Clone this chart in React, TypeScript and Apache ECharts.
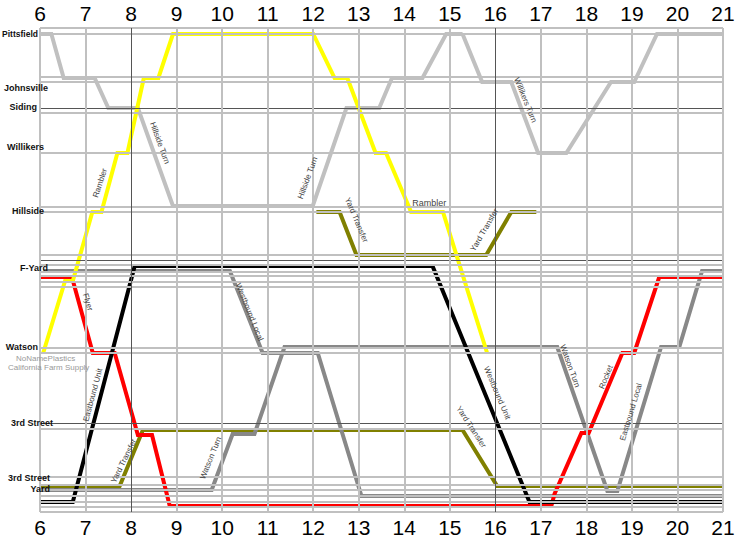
import React, { useEffect, useRef } from "react";
import * as echarts from "echarts";

// Time axis (hours of day)
const hourTicks = [6, 7, 8, 9, 10, 11, 12, 13, 14, 15, 16, 17, 18, 19, 20, 21];
const darkHours = [8, 16];

// Station names and their track positions (distance units from top)
const stationNames = ["Pittsfield", "Johnsville", "Siding", "Willikers", "Hillside", "F-Yard", "Watson", "3rd Street", "3rd Street", "Yard"];
const stationPos = [6, 60, 79, 119, 183, 240, 319, 395, 450, 461];
const industryNames = ["NoNamePlastics", "California Farm Supply"];

// Track lines (horizontal reference lines)
const trackLines = [0, 6, 49, 54, 85, 125, 179, 184, 227, 237, 244, 248, 254, 259, 320, 325, 401, 449, 457, 462, 468, 474, 479, 484];
const mainLines = [80, 232, 395];

// Trains: [hour, position]
const rambler: number[][] = [
  [6.07, 325], [6.55, 253], [6.72, 253], [7.15, 184], [7.35, 184], [7.7, 125], [7.92, 125],
  [8.28, 50], [8.6, 50], [8.92, 6], [12.0, 6], [12.47, 50], [12.75, 50], [13.37, 125],
  [13.6, 125], [14.15, 184], [14.85, 184], [15.82, 325],
];
const hillsideTurn: number[][] = [
  [6, 6], [6.25, 6], [6.52, 50], [7.2, 50], [7.5, 80], [8.15, 80], [8.92, 178], [11.99, 178],
  [12.73, 80], [13.45, 80], [13.73, 50], [14.4, 50], [14.92, 6], [15.28, 6],
];
const willikersTurn: number[][] = [
  [15.28, 6], [15.71, 54], [16.35, 54], [16.94, 125], [17.56, 125], [18.54, 54], [19.05, 54], [19.55, 6], [21, 6],
];
const yardTransferUpper: number[][] = [
  [12.07, 184], [12.58, 184], [12.95, 227], [15.8, 227], [16.35, 184], [16.9, 184],
];
const yardTransferLower: number[][] = [
  [6, 458], [7.75, 458], [8.26, 402], [15.28, 402], [16.04, 458], [21, 458],
];
const unitTrain: number[][] = [
  [6, 474], [6.72, 474], [8.08, 238], [14.62, 238], [16.75, 474], [21, 474],
];
const flyerRocket: number[][] = [
  [6, 249], [6.7, 249], [7.16, 325], [7.64, 325], [8.15, 407], [8.46, 407], [8.85, 478],
  [17.23, 478], [17.3, 466], [17.89, 405], [18.05, 405], [18.79, 325], [19.05, 325], [19.6, 249], [21, 249],
];
const westboundLocal: number[][] = [
  [6.07, 243], [10.17, 243], [10.89, 325], [12.1, 325], [13.06, 468], [21, 468],
];
const watsonTurnLocal: number[][] = [
  [6, 462], [9.77, 462], [10.23, 406], [10.71, 406], [11.37, 319], [17.36, 319], [18.46, 463],
  [18.68, 463], [19.64, 319], [20.04, 319], [20.54, 243], [21, 243],
];

// Train annotations
const trainLabelText = [
  "Rambler", "Hillside Turn", "Hillside Turn", "Yard Transfer", "Rambler", "Yard Transfer",
  "Willikers Turn", "Flyer", "Westbound Local", "Eastbound Unit", "Yard Transfer", "Watson Turn",
  "Yard Transfer", "Westbound Unit", "Watson Turn", "Rocket", "Eastbound Local",
];

// layout (not data): anchor [hour, position], angle in degrees
const trainLabelLayout = [
  { at: [7.32, 155], angle: 72 },
  { at: [8.63, 115], angle: -70 },
  { at: [11.88, 150], angle: 70 },
  { at: [12.95, 192], angle: -67 },
  { at: [14.55, 175], angle: 0 },
  { at: [15.76, 202], angle: 60 },
  { at: [16.66, 72], angle: -68 },
  { at: [7.05, 274], angle: -73 },
  { at: [10.6, 284], angle: -68 },
  { at: [7.16, 367], angle: 75 },
  { at: [7.84, 433], angle: 64 },
  { at: [9.75, 430], angle: 68 },
  { at: [15.47, 399], angle: -57 },
  { at: [16.04, 365], angle: -67 },
  { at: [17.64, 338], angle: -70 },
  { at: [18.43, 349], angle: 68 },
  { at: [18.98, 384], angle: 73 },
];
const stationLabelRight = [38, 48, 37, 44, 44, 48, 38, 53, 50, 50];

const LIGHT = "#c0c0c0";
const DARK = "#555555";
const FONT = "Arial, 'Liberation Sans', sans-serif";

export default function App() {
  const ref = useRef<HTMLDivElement>(null);
  useEffect(() => {
    if (!ref.current) return;
    const chart = echarts.init(ref.current, undefined, { renderer: "svg" });

    const gridMarks: any[] = [];
    trackLines.forEach((v) => gridMarks.push({ yAxis: v, lineStyle: { color: LIGHT, width: 2, type: "solid" } }));
    mainLines.forEach((v) => gridMarks.push({ yAxis: v, lineStyle: { color: DARK, width: 1, type: "solid" } }));
    hourTicks.forEach((h) =>
      gridMarks.push({
        xAxis: h,
        lineStyle: darkHours.includes(h) ? { color: DARK, width: 1, type: "solid" } : { color: LIGHT, width: 2, type: "solid" },
      })
    );

    const train = (name: string, data: number[][], color: string, width = 4, z = 3) => ({
      name,
      type: "line",
      data,
      symbol: "none",
      silent: true,
      z,
      lineStyle: { color, width, cap: "butt", join: "miter" },
    });

    const axisBase = {
      type: "value",
      min: 6,
      max: 21,
      interval: 1,
      axisLine: { show: false },
      axisTick: { show: false },
      splitLine: { show: false },
    };

    chart.setOption({
      animation: false,
      backgroundColor: "#ffffff",
      grid: { left: 40, right: 17, top: 28, bottom: 29, containLabel: false },
      xAxis: [
        { ...axisBase, position: "bottom", axisLabel: { fontSize: 21, color: "#000", fontFamily: FONT, margin: 5 } },
        { ...axisBase, position: "top", axisLabel: { fontSize: 21, color: "#000", fontFamily: FONT, margin: 4 } },
      ],
      yAxis: { type: "value", min: 0, max: 484, inverse: true, show: false },
      series: [
        {
          type: "line",
          data: [],
          z: 1,
          markLine: { silent: true, symbol: "none", label: { show: false }, animation: false, data: gridMarks },
        },
        train("Hillside Turn", hillsideTurn, LIGHT),
        train("Willikers Turn", willikersTurn, LIGHT),
        train("Yard Transfer", yardTransferUpper, "#808000"),
        train("Yard Transfer 2", yardTransferLower, "#808000"),
        train("Westbound Local", westboundLocal, "#888888"),
        train("Watson Turn", watsonTurnLocal, "#888888"),
        train("Flyer", flyerRocket, "#ff0000"),
        train("Unit", unitTrain, "#000000"),
        train("Rambler", rambler, "#ffff00"),
      ],
    });

    const graphics: any[] = [];
    stationNames.forEach((name, i) => {
      const p = chart.convertToPixel({ xAxisIndex: 0, yAxisIndex: 0 }, [6, stationPos[i]]) as number[];
      graphics.push({
        type: "text",
        x: stationLabelRight[i],
        y: p[1],
        z: 10,
        style: {
          text: name,
          fill: "#111",
          font: `bold ${i === 0 ? 8.5 : 9}px ${FONT}`,
          align: "right",
          verticalAlign: "middle",
        },
      });
    });
    const wp = chart.convertToPixel({ xAxisIndex: 0, yAxisIndex: 0 }, [6, stationPos[6]]) as number[];
    graphics.push({
      type: "text", x: 16, y: wp[1] + 11, z: 10,
      style: { text: industryNames[0], fill: "#999", font: `8px ${FONT}`, align: "left", verticalAlign: "middle" },
    });
    graphics.push({
      type: "text", x: 8, y: wp[1] + 20, z: 10,
      style: { text: industryNames[1], fill: "#999", font: `8px ${FONT}`, align: "left", verticalAlign: "middle" },
    });
    trainLabelText.forEach((t, i) => {
      const lay = trainLabelLayout[i];
      const p = chart.convertToPixel({ xAxisIndex: 0, yAxisIndex: 0 }, lay.at) as number[];
      graphics.push({
        type: "text",
        x: p[0],
        y: p[1],
        rotation: (lay.angle * Math.PI) / 180,
        z: 10,
        style: {
          text: t,
          fill: "#444",
          font: `${lay.angle === 0 ? 9 : 8}px ${FONT}`,
          align: "center",
          verticalAlign: "middle",
        },
      });
    });
    chart.setOption({ graphic: graphics });

    return () => chart.dispose();
  }, []);
  return <div ref={ref} style={{ width: 740, height: 541, position: "absolute", left: 0, top: 0 }} />;
}
